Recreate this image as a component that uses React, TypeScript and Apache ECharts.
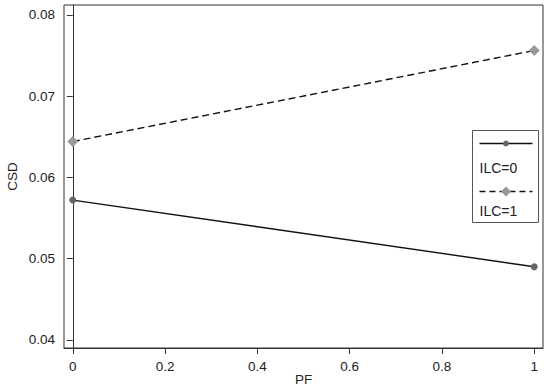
import React, { useEffect, useRef } from "react";
import * as echarts from "echarts";

const pfValues = [0, 1];
const ilc0 = [0.0572, 0.049];
const ilc1 = [0.0644, 0.0756];
const yTicks = [0.04, 0.05, 0.06, 0.07, 0.08];
const xTicks = [0, 0.2, 0.4, 0.6, 0.8, 1];
const seriesNames = ["ILC=0", "ILC=1"];

export default function App() {
  const ref = useRef<HTMLDivElement>(null);
  useEffect(() => {
    document.body.style.margin = "0";
    if (!ref.current) return;
    const chart = echarts.init(ref.current, undefined, { renderer: "svg" });
    const font = "'Liberation Sans', Arial, sans-serif";
    const axisColor = "#333";
    chart.setOption({
      animation: false,
      backgroundColor: "#fff",
      grid: {
        left: 64,
        right: 7,
        top: 5,
        bottom: 42,
        containLabel: false,
        outerBoundsMode: "none",
        show: true,
        borderColor: axisColor,
        borderWidth: 1,
      },
      xAxis: {
        type: "value",
        min: -0.019,
        max: 1.019,
        name: "PF",
        nameLocation: "middle",
        nameGap: 24,
        nameMoveOverlap: false,
        nameTextStyle: { fontFamily: font, fontSize: 13.5, color: "#222" },
        axisLine: { show: true, lineStyle: { color: axisColor, width: 1 } },
        axisTick: { show: true, length: 6, customValues: xTicks, lineStyle: { color: axisColor } },
        axisLabel: {
          customValues: xTicks,
          fontFamily: font,
          fontSize: 13.5,
          color: "#222",
          margin: 11,
          formatter: (v: number) => String(v),
        },
        splitLine: { show: false },
      },
      yAxis: {
        type: "value",
        min: 0.039,
        max: 0.0812,
        name: "CSD",
        nameLocation: "middle",
        nameGap: 45,
        nameMoveOverlap: false,
        nameRotate: 90,
        nameTextStyle: { fontFamily: font, fontSize: 13.5, color: "#222" },
        axisLine: { show: true, lineStyle: { color: axisColor, width: 1 } },
        axisTick: { show: true, length: 6, customValues: yTicks, lineStyle: { color: axisColor } },
        axisLabel: {
          customValues: yTicks,
          fontFamily: font,
          fontSize: 13.5,
          color: "#222",
          margin: 9,
          formatter: (v: number) => v.toFixed(2),
        },
        splitLine: { show: false },
      },
      series: [
        {
          name: seriesNames[0],
          type: "line",
          data: pfValues.map((x, i) => [x, ilc0[i]]),
          symbol: "circle",
          symbolSize: 7,
          showSymbol: true,
          lineStyle: { color: "#111", width: 1.4, type: "solid" },
          itemStyle: { color: "#666" },
        },
        {
          name: seriesNames[1],
          type: "line",
          data: pfValues.map((x, i) => [x, ilc1[i]]),
          symbol: "diamond",
          symbolSize: 11,
          showSymbol: true,
          lineStyle: { color: "#111", width: 1.4, type: [7, 4] },
          itemStyle: { color: "#999" },
        },
      ],
      graphic: [
        {
          type: "group",
          left: 472,
          top: 130,
          children: [
            { type: "rect", shape: { x: 0, y: 0, width: 66, height: 92 }, style: { fill: "#fff", stroke: "#555", lineWidth: 1 } },
            { type: "line", shape: { x1: 7, y1: 13, x2: 60, y2: 13 }, style: { stroke: "#111", lineWidth: 1.4 } },
            { type: "circle", shape: { cx: 33.5, cy: 13, r: 3 }, style: { fill: "#666" } },
            { type: "text", x: 7, y: 37, style: { text: seriesNames[0], font: `14px ${font}`, fill: "#222", verticalAlign: "middle" } },
            { type: "line", shape: { x1: 7, y1: 61, x2: 60, y2: 61 }, style: { stroke: "#111", lineWidth: 1.4, lineDash: [6, 4] } },
            { type: "polygon", shape: { points: [[33.5, 56], [38.5, 61], [33.5, 66], [28.5, 61]] }, style: { fill: "#999" } },
            { type: "text", x: 7, y: 80, style: { text: seriesNames[1], font: `14px ${font}`, fill: "#222", verticalAlign: "middle" } },
          ],
        },
      ],
    });
    return () => chart.dispose();
  }, []);
  return <div ref={ref} style={{ width: 550, height: 390 }} />;
}
